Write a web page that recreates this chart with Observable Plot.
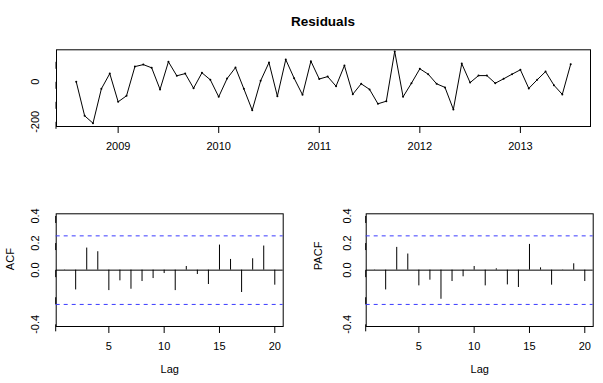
<!DOCTYPE html>
<html><head><meta charset="utf-8">
<script src="https://cdn.jsdelivr.net/npm/d3@7"></script>
<script src="https://cdn.jsdelivr.net/npm/@observablehq/plot@0.6"></script>
<style>
body{margin:0;background:#fff;font-family:"Liberation Sans",Arial,sans-serif;}
#wrap{position:relative;width:603px;height:383px;overflow:hidden;background:#fff;}
.panel{position:absolute;}
.panel svg{max-width:none;display:block;}
#title{position:absolute;left:0;width:646px;top:14px;line-height:16px;text-align:center;font-weight:bold;font-size:13.5px;z-index:5;}
</style></head><body>
<div id="wrap">
  <div id="title">Residuals</div>
  <div class="panel" id="p1" style="left:0;top:40px;width:603px;height:125px"></div>
  <div class="panel" id="p2" style="left:0;top:190px;width:300px;height:193px"></div>
  <div class="panel" id="p3" style="left:300px;top:190px;width:303px;height:193px"></div>
</div>
<script>
// ---- data ----
const startYear = 2008, startMonth = 8; // monthly series, Aug 2008 .. Jul 2013
const residuals = [0,-170,-207,-35,41,-100,-70,76,86,70,-38,100,30,41,-32,45,10,-75,16,71,
  -35,-142,5,96,-72,111,18,-65,103,14,26,-22,81,-62,-10,-38,-110,-97,152,-75,
  -7,65,38,-10,-28,-138,91,-4,31,31,-7,15,38,60,-33,10,51,-17,-63,88];
const yearTicks = [2009, 2010, 2011, 2012, 2013];
const residTicks = [-200, -100, 0, 100];
const residTickLabels = ["-200", "", "0", ""];
const lags = [1,2,3,4,5,6,7,8,9,10,11,12,13,14,15,16,17,18,19,20];
const acfValues = [0.002,-0.146,0.163,0.136,-0.151,-0.079,-0.141,-0.084,-0.062,-0.025,
  -0.151,0.027,-0.032,-0.106,0.185,0.079,-0.165,0.084,0.178,-0.111];
const pacfValues = [0.002,-0.146,0.168,0.119,-0.116,-0.074,-0.215,-0.084,-0.049,0.027,
  -0.116,0.010,-0.109,-0.128,0.19,0.017,-0.111,0.002,0.047,-0.084];
const lagTicks = [5, 10, 15, 20];
const acfTicks = [-0.4, -0.2, 0, 0.2, 0.4];
const acfTickLabels = ["-0.4", "", "0.0", "0.2", "0.4"];
const ciLimit = 1.96 / Math.sqrt(residuals.length);

const font = "Liberation Sans, Arial, sans-serif";
const series = residuals.map((v, i) => ({t: startYear + (startMonth - 1 + i) / 12, v}));

const p1 = Plot.plot({
  width: 603, height: 125,
  marginLeft: 56, marginRight: 13, marginTop: 9.3, marginBottom: 39,
  style: {fontFamily: font, fontSize: "11px", background: "transparent", color: "black"},
  x: {domain: [2008.387, 2013.697]},
  y: {domain: [-223.5, 160]},
  marks: [
    Plot.frame({stroke: "black"}),
    Plot.axisX({ticks: yearTicks, tickFormat: d => String(d), tickSize: 7, tickPadding: 9, fontSize: 11, label: null}),
    Plot.axisY({ticks: residTicks, tickFormat: d => residTickLabels[residTicks.indexOf(d)], tickSize: 7, tickPadding: 14,
      rotate: -90, textAnchor: "middle", fontSize: 11, label: null}),
    Plot.line(series, {x: "t", y: "v", stroke: "black", strokeWidth: 1}),
    Plot.dot(series, {x: "t", y: "v", r: 1, fill: "black", stroke: "none"})
  ]
});
document.getElementById("p1").appendChild(p1);

function corrPlot(values, label, w, ml, mr, labelDx, tickPad) {
  const rows = lags.map((l, i) => ({lag: l, v: values[i]}));
  return Plot.plot({
    width: w, height: 193,
    marginLeft: ml, marginRight: mr, marginTop: 23.3, marginBottom: 57,
    style: {fontFamily: font, fontSize: "11px", background: "transparent", color: "black"},
    x: {domain: [0.24, 20.76]},
    y: {domain: [-0.416, 0.416]},
    marks: [
      Plot.frame({stroke: "black"}),
      Plot.axisX({ticks: lagTicks, tickSize: 7, tickPadding: 9, fontSize: 11, label: null}),
      Plot.axisY({ticks: acfTicks, tickFormat: d => acfTickLabels[acfTicks.indexOf(d)], tickSize: 7, tickPadding: tickPad,
        rotate: -90, textAnchor: "middle", fontSize: 11, label: null}),
      Plot.ruleY([0], {stroke: "black"}),
      Plot.ruleY([ciLimit, -ciLimit], {stroke: "#3b3bff", strokeDasharray: "4,4", strokeWidth: 1}),
      Plot.ruleX(rows, {x: "lag", y1: 0, y2: "v", stroke: "black", strokeWidth: 1}),
      Plot.text([label], {text: d => d, frameAnchor: "left", dx: labelDx, rotate: -90, fontSize: 11}),
      Plot.text(["Lag"], {text: d => d, frameAnchor: "bottom", dy: 46.7, fontSize: 11})
    ]
  });
}
document.getElementById("p2").appendChild(corrPlot(acfValues, "ACF", 300, 55.7, 17.3, -45.7, 13.7));
document.getElementById("p3").appendChild(corrPlot(pacfValues, "PACF", 303, 65.7, 10.3, -47.4, 12));
</script>
</body></html>
